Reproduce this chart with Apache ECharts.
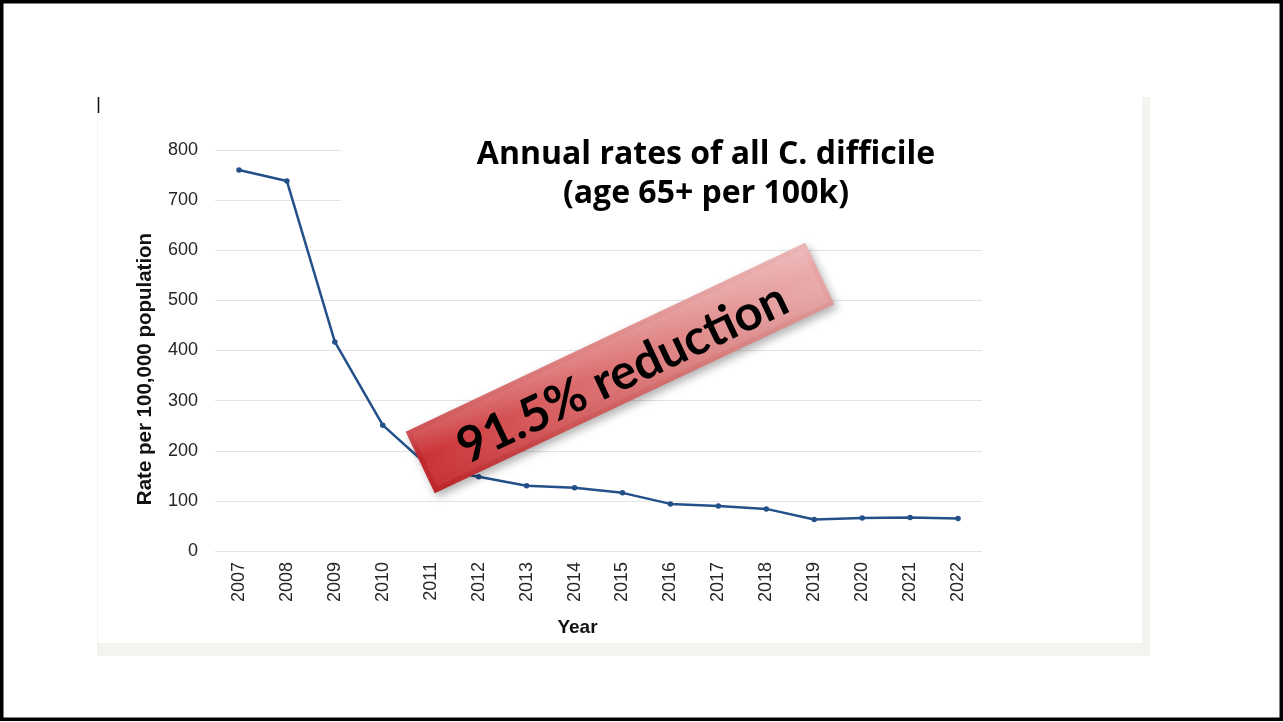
<!DOCTYPE html>
<html>
<head>
<meta charset="utf-8">
<title>Annual rates of all C. difficile</title>
<script src="https://cdn.jsdelivr.net/npm/echarts@6/dist/echarts.min.js"></script>
<style>
  html, body { margin: 0; padding: 0; background: #ffffff; }
  #chart { width: 1283px; height: 722px; }
</style>
</head>
<body>
<div id="chart"></div>
<script>
// Annual C. difficile rates, age 65+, per 100,000 population
const years = ['2007','2008','2009','2010','2011','2012','2013','2014','2015',
               '2016','2017','2018','2019','2020','2021','2022'];
const rates = [760, 738, 417, 251, 165, 148, 130, 126, 116,
               94, 90, 84, 63, 66, 67, 65];

const titleLines = ['Annual rates of all C. difficile', '(age 65+ per 100k)'];
const bannerText = '91.5% reduction';
const yAxisTitle = 'Rate per 100,000 population';
const xAxisTitle = 'Year';

const chart = echarts.init(document.getElementById('chart'), null, { renderer: 'canvas' });

const bannerAngle = 25.3 * Math.PI / 180;
const bannerW = 442, bannerH = 68;
const axisFont = 'Liberation Sans, Arial, sans-serif';

const option = {
  backgroundColor: '#ffffff',
  animation: false,
  grid: { left: 215, right: 301, top: 150, bottom: 171, containLabel: false },
  xAxis: {
    type: 'category',
    data: years,
    boundaryGap: true,
    axisLine: { show: false },
    axisTick: { show: false },
    axisLabel: {
      rotate: 90,
      margin: 11,
      fontFamily: axisFont,
      fontSize: 18,
      color: '#262626'
    },
    name: xAxisTitle,
    nameLocation: 'middle',
    nameGap: 67,
    nameTextStyle: {
      fontFamily: axisFont,
      fontWeight: 'bold',
      fontSize: 19,
      color: '#111111',
      padding: [0, 42, 0, 0]
    }
  },
  yAxis: {
    type: 'value',
    min: 0,
    max: 800,
    interval: 100,
    axisLine: { show: false },
    axisTick: { show: false },
    axisLabel: {
      margin: 17,
      fontFamily: axisFont,
      fontSize: 18,
      color: '#262626'
    },
    splitLine: { lineStyle: { color: '#e3e3e3', width: 1 } }
  },
  series: [{
    type: 'line',
    data: rates,
    z: 3,
    symbol: 'circle',
    symbolSize: 5.5,
    lineStyle: { color: '#24508a', width: 2.5 },
    itemStyle: { color: '#24508a' }
  }],
  graphic: [
    // slide frame panel
    { type: 'rect', z: -10, silent: true,
      shape: { x: 97, y: 97, width: 1053, height: 559 },
      style: { fill: '#f4f3ef' } },
    { type: 'rect', z: -9, silent: true,
      shape: { x: 98, y: 97, width: 1044, height: 546 },
      style: { fill: '#ffffff' } },
    { type: 'rect', z: 100, silent: true,
      shape: { x: 1.75, y: 1.75, width: 1279.5, height: 717.5 },
      style: { fill: null, stroke: '#000000', lineWidth: 3.5 } },
    { type: 'line', z: 100, silent: true,
      shape: { x1: 98.5, y1: 97, x2: 98.5, y2: 113 },
      style: { stroke: '#111111', lineWidth: 1.5 } },
    // title text box
    { type: 'rect', z: 50, silent: true,
      shape: { x: 341, y: 135, width: 650, height: 95 },
      style: { fill: '#ffffff' } },
    { type: 'text', z: 51, silent: true,
      x: 706, y: 155,
      style: {
        text: titleLines[0],
        fontFamily: 'Open Sans, Lato, sans-serif',
        fontWeight: 'bold',
        fontSize: 32,
        fill: '#000000',
        align: 'center',
        verticalAlign: 'middle'
      } },
    { type: 'text', z: 51, silent: true,
      x: 706, y: 194,
      style: {
        text: titleLines[1],
        fontFamily: 'Open Sans, Lato, sans-serif',
        fontWeight: 'bold',
        fontSize: 32,
        fill: '#000000',
        align: 'center',
        verticalAlign: 'middle'
      } },
    // y axis title
    { type: 'text', z: 51, silent: true,
      x: 145, y: 369,
      rotation: Math.PI / 2,
      style: {
        text: yAxisTitle,
        fontFamily: axisFont,
        fontWeight: 'bold',
        fontSize: 20.5,
        fill: '#111111',
        align: 'center',
        verticalAlign: 'middle'
      } },
    // rotated callout banner
    { type: 'group', z: 60, x: 620, y: 368, rotation: bannerAngle, silent: true,
      children: [
        { type: 'rect', z: 60,
          shape: { x: -bannerW / 2, y: -bannerH / 2, width: bannerW, height: bannerH },
          style: {
            fill: new echarts.graphic.LinearGradient(0, 0, 1, 0, [
              { offset: 0, color: '#c0262a' },
              { offset: 0.35, color: '#d45a5c' },
              { offset: 0.75, color: '#df8a8a' },
              { offset: 1, color: '#e7a4a4' }
            ]),
            shadowBlur: 8,
            shadowOffsetX: 3,
            shadowOffsetY: 4,
            shadowColor: 'rgba(0,0,0,0.3)'
          } },
        { type: 'rect', z: 61,
          shape: { x: -bannerW / 2 + 5, y: -bannerH / 2 + 5, width: bannerW - 10, height: bannerH - 10 },
          style: {
            fill: new echarts.graphic.LinearGradient(0, 0, 1, 0, [
              { offset: 0, color: '#cb3235' },
              { offset: 0.35, color: '#d96466' },
              { offset: 0.75, color: '#e39393' },
              { offset: 1, color: '#eaabab' }
            ])
          } },
        { type: 'rect', z: 62,
          shape: { x: -bannerW / 2, y: -bannerH / 2, width: bannerW, height: bannerH },
          style: {
            fill: new echarts.graphic.LinearGradient(0, 0, 0, 1, [
              { offset: 0, color: 'rgba(255,255,255,0.22)' },
              { offset: 0.45, color: 'rgba(255,255,255,0.0)' },
              { offset: 1, color: 'rgba(110,0,0,0.08)' }
            ])
          } },
        { type: 'text', z: 63,
          x: 0, y: 6,
          style: {
            text: bannerText,
            fontFamily: 'Lato, Open Sans, sans-serif',
            fontWeight: 'bold',
            fontSize: 49,
            fill: '#000000',
            align: 'center',
            verticalAlign: 'middle'
          } }
      ] }
  ]
};

chart.setOption(option);
</script>
</body>
</html>
